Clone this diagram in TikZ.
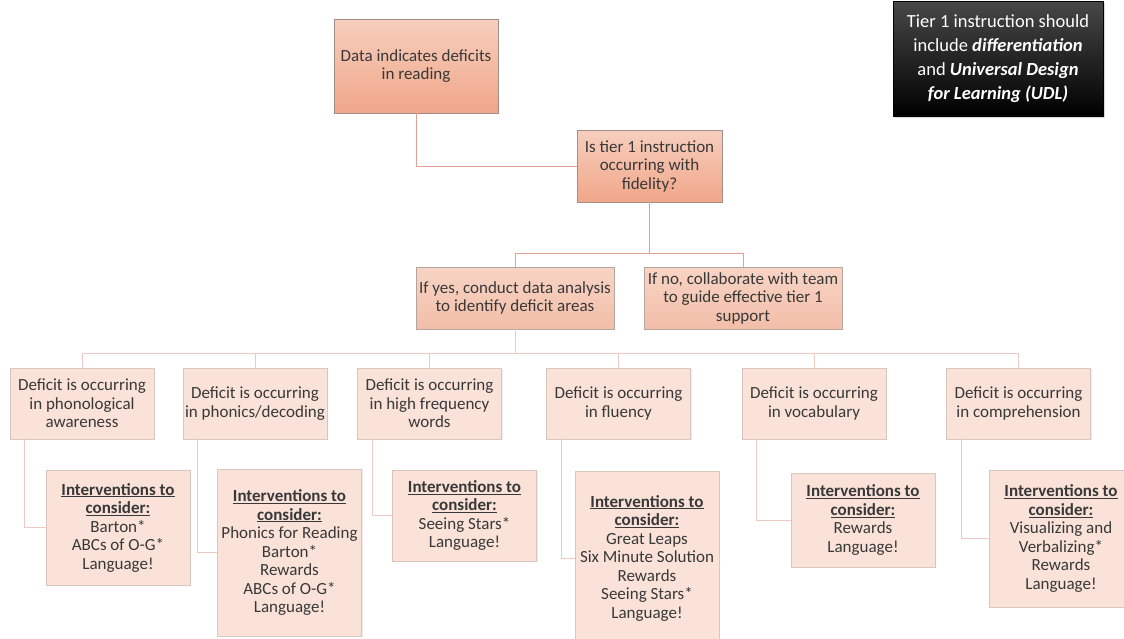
\documentclass[tikz,border=0pt]{standalone}
\usepackage{fontspec}
\setmainfont{Carlito}
\usepackage{tikz}
\usetikzlibrary{shadows}

\definecolor{salmontop}{HTML}{F7CFBE}
\definecolor{salmonbot}{HTML}{F0A689}
\definecolor{peachtop}{HTML}{F8D4C5}
\definecolor{peachbot}{HTML}{F2BEA8}
\definecolor{blush}{HTML}{FAE2D9}
\definecolor{boxedge}{HTML}{A38E87}
\definecolor{softedge}{HTML}{D9C6BF}
\definecolor{linkred}{HTML}{E4A094}
\definecolor{linkpale}{HTML}{EDCBC3}
\definecolor{inktext}{HTML}{383838}

\newcommand{\helphead}{\underline{\textbf{Interventions to}}\\ \underline{\textbf{consider:}}}

\begin{document}
\begin{tikzpicture}[x=1pt, y=-1pt,
    every node/.style={font=\fontsize{17}{18.5}\selectfont, text=inktext, align=center, inner sep=2pt},
    keybox/.style={draw=boxedge, line width=0.8pt, top color=salmontop, bottom color=salmonbot,
        drop shadow={shadow xshift=1.2pt, shadow yshift=-1.2pt, opacity=0.25}},
    choicebox/.style={draw=boxedge!80, line width=0.7pt, top color=peachtop, bottom color=peachbot,
        minimum width=198pt, minimum height=62pt,
        drop shadow={shadow xshift=1.2pt, shadow yshift=-1.2pt, opacity=0.25}},
    deficitbox/.style={draw=softedge, line width=0.7pt, fill=blush,
        minimum width=144pt, minimum height=71pt,
        drop shadow={shadow xshift=1pt, shadow yshift=-1pt, opacity=0.15}},
    helpbox/.style={draw=softedge, line width=0.7pt, fill=blush, minimum width=144pt,
        drop shadow={shadow xshift=1pt, shadow yshift=-1pt, opacity=0.15}},
    notebox/.style={draw=black, top color=black!72, bottom color=black, text=white,
        font=\fontsize{18.5}{24}\selectfont,
        minimum width=210pt, minimum height=115pt,
        drop shadow={shadow xshift=1.5pt, shadow yshift=-1.5pt, opacity=0.3}},
    link/.style={draw=linkred, line width=0.8pt},
    sublink/.style={draw=linkpale, line width=0.8pt}
    ]

    %% Background
    \useasboundingbox (0,0) rectangle (1124,638);
    \clip (0,0) rectangle (1124,638);

    % Tier 1 note
    \node[notebox] (note) at (998,59)
    {Tier 1 instruction should\\
     include \textbf{\textit{differentiation}}\\
     and \textbf{\textit{Universal Design}}\\
     \textbf{\textit{for Learning (UDL)}}};

    % Top of the tree
    \node[keybox, minimum width=164pt, minimum height=94pt] (data) at (416,66)
    {Data indicates deficits\\ in reading};
    \node[keybox, minimum width=145pt, minimum height=72pt] (fidelity) at (649.5,166)
    {Is tier 1 instruction\\ occurring with\\ fidelity?};

    \node[choicebox] (yes) at (515,298) {If yes, conduct data analysis\\ to identify deficit areas};
    \node[choicebox] (no) at (743,298) {If no, collaborate with team\\ to guide effective tier 1\\ support};

    \coordinate (split) at (649.5,253);
    \coordinate (spread) at (515,353);

    \draw[link] (data.south) |- (fidelity.west);
    \draw[link] (fidelity.south) -- (split);
    \draw[link] (split) -| (yes.north);
    \draw[link] (split) -| (no.north);

    % Deficit areas
    \node[deficitbox] (phon) at (82,403.5) {Deficit is occurring\\ in phonological\\ awareness};
    \node[deficitbox] (decode) at (255,403.5) {Deficit is occurring\\ in phonics/decoding};
    \node[deficitbox] (hfw) at (429.5,403.5) {Deficit is occurring\\ in high frequency\\ words};
    \node[deficitbox] (flu) at (618.5,403.5) {Deficit is occurring\\ in fluency};
    \node[deficitbox] (vocab) at (814,403.5) {Deficit is occurring\\ in vocabulary};
    \node[deficitbox] (comp) at (1018.5,403.5) {Deficit is occurring\\ in comprehension};

    \draw[sublink] (yes.south) -- (spread);
    \foreach \area in {phon,decode,hfw,flu,vocab,comp}
    {
    \draw[sublink] (spread) -| (\area.north);
    }

    % Interventions
    \node[helpbox, minimum height=115pt] (phonhelp) at (118,527.5)
    {\helphead\\ Barton*\\ ABCs of O-G*\\ Language!};
    \node[helpbox, minimum height=167pt] (decodehelp) at (289.5,552.5)
    {\helphead\\ Phonics for Reading\\ Barton*\\ Rewards\\ ABCs of O-G*\\ Language!};
    \node[helpbox, minimum height=91pt] (hfwhelp) at (464.5,515.5)
    {\helphead\\ Seeing Stars*\\ Language!};
    \node[helpbox, minimum height=174pt] (fluhelp) at (647,558)
    {\helphead\\ Great Leaps\\ Six Minute Solution\\ Rewards\\ Seeing Stars*\\ Language!};
    \node[helpbox, minimum height=94pt] (vocabhelp) at (863,520)
    {\helphead\\ Rewards\\ Language!};
    \node[helpbox, minimum height=137pt] (comphelp) at (1061,538.5)
    {\helphead\\ Visualizing and\\ Verbalizing*\\ Rewards\\ Language!};

    \foreach \area in {phon,decode,hfw,flu,vocab,comp}
    {
    \draw[sublink] ([xshift=15pt]\area.south west) |- (\area help.west);
    }

\end{tikzpicture}
\end{document}
